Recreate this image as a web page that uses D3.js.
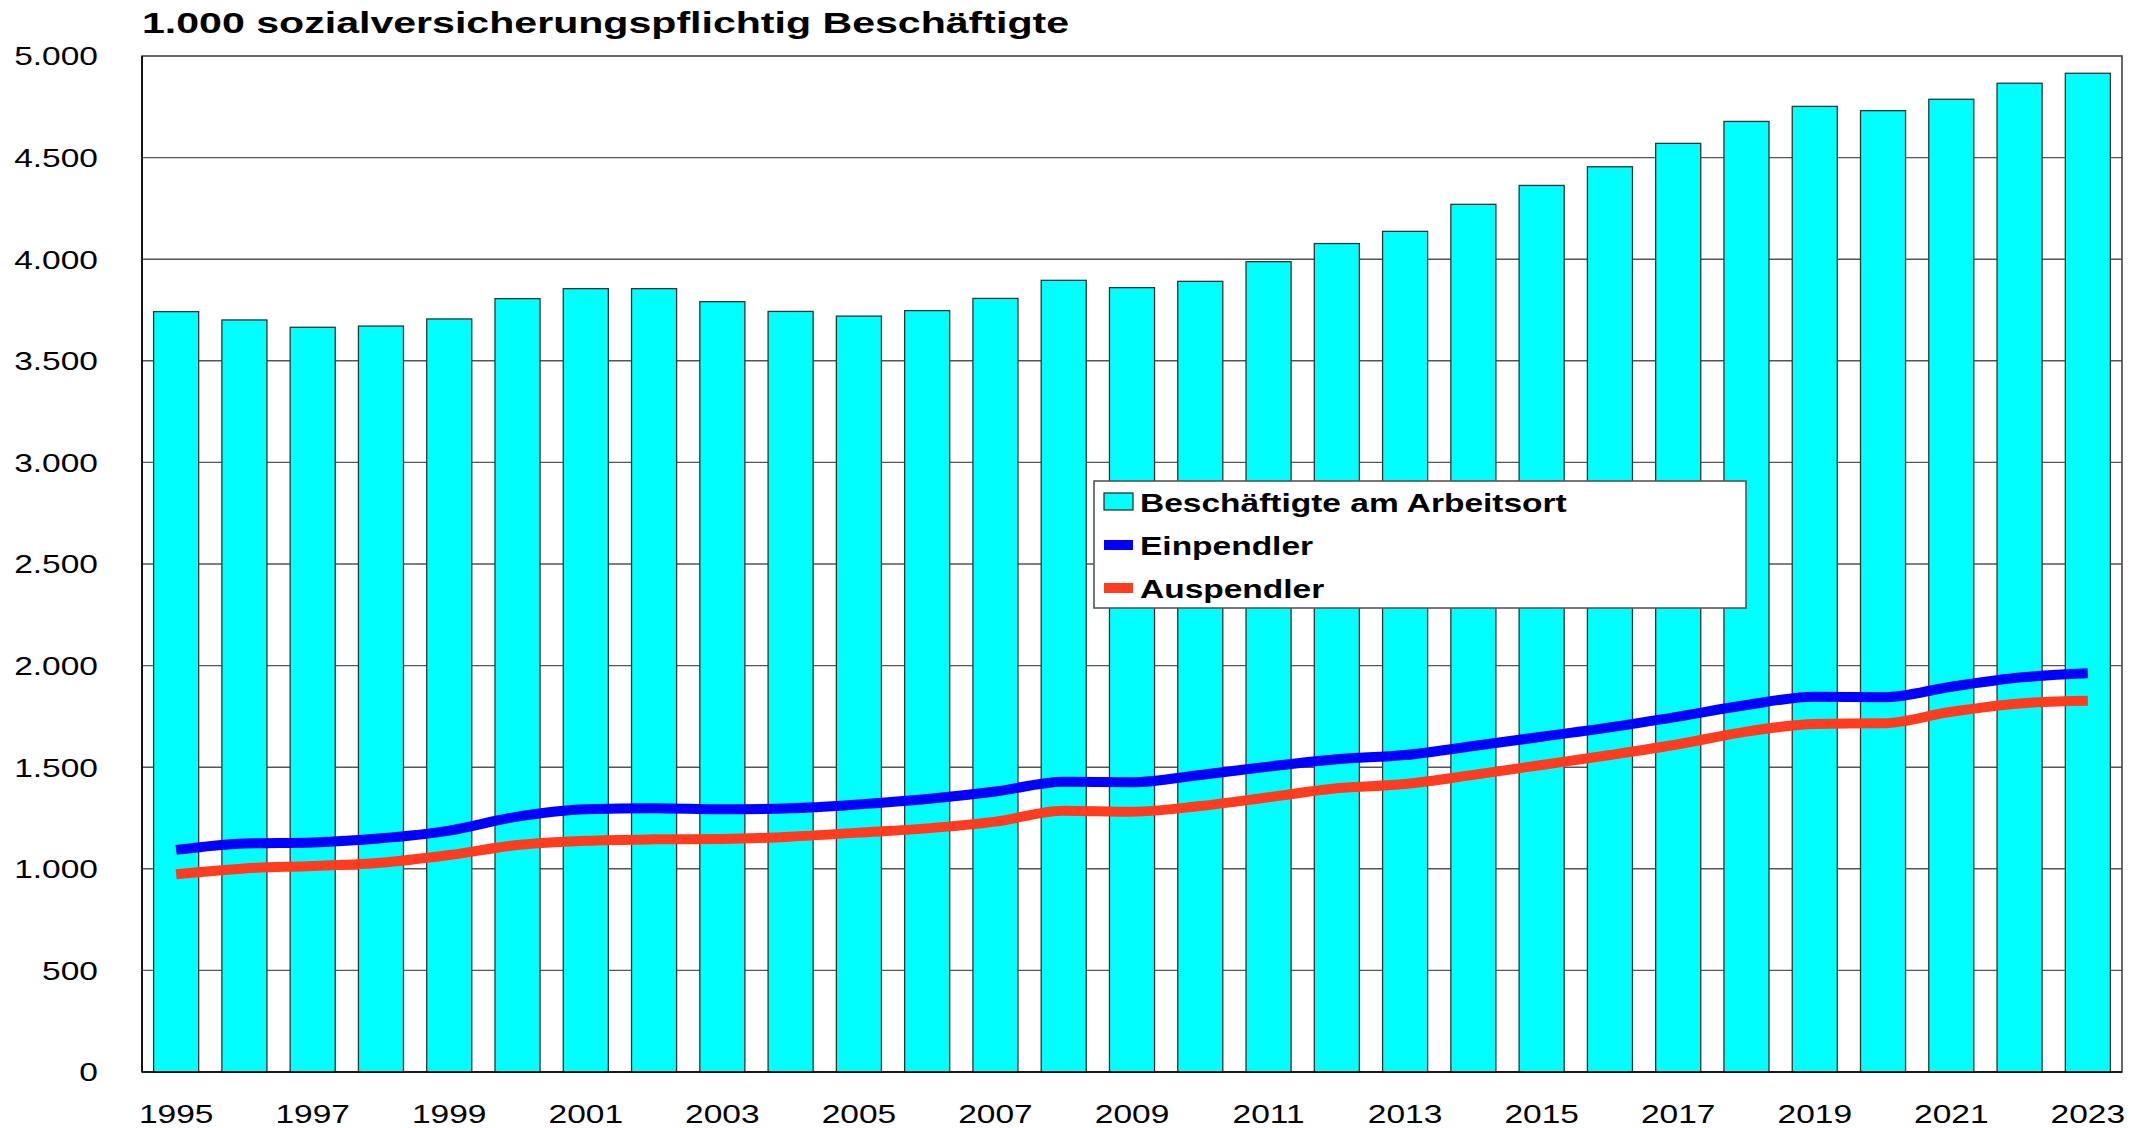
<!DOCTYPE html>
<html>
<head>
<meta charset="utf-8">
<script src="https://cdn.jsdelivr.net/npm/d3@7"></script>
<style>
  html, body { margin: 0; padding: 0; background: #fff; }
  svg { display: block; }
  text { font-family: "Liberation Sans", Arial, sans-serif; fill: #000; }
</style>
</head>
<body>
<svg id="chart" width="2147" height="1128"></svg>
<script>
// ---- data ----
const years = d3.range(1995, 2024);
const beschaeftigte = [3742, 3701, 3665, 3671, 3706, 3806, 3855, 3855, 3791, 3743, 3720, 3747, 3807, 3896, 3860, 3891, 3988, 4077, 4137, 4270, 4363, 4455, 4570, 4678, 4752, 4731, 4787, 4866, 4915];
const einpendler   = [1093, 1125, 1130, 1150, 1188, 1257, 1293, 1298, 1293, 1298, 1317, 1343, 1380, 1429, 1426, 1462, 1503, 1539, 1560, 1604, 1650, 1696, 1749, 1806, 1847, 1844, 1896, 1941, 1962];
const auspendler   = [973, 1002, 1014, 1030, 1068, 1117, 1138, 1145, 1147, 1158, 1178, 1199, 1232, 1286, 1281, 1309, 1352, 1396, 1417, 1462, 1511, 1560, 1613, 1675, 1713, 1716, 1773, 1814, 1827];
const yTicks = d3.range(0, 5001, 500);
const xTickYears = years.filter(y => (y - 1995) % 2 === 0);
const title = "1.000 sozialversicherungspflichtig Beschäftigte";
const legendItems = [
  { label: "Beschäftigte am Arbeitsort", kind: "bar",  color: "#00ffff" },
  { label: "Einpendler",                 kind: "line", color: "#0000ff" },
  { label: "Auspendler",                 kind: "line", color: "#ff3c20" }
];

// ---- layout ----
const W = 2147, H = 1128;
const L = 142, R = 2122, T = 56, B = 1072;
const SX = 1.34; // horizontal stretch of the original text

const svg = d3.select("#chart");

const x = d3.scaleBand().domain(years).range([L, R]).paddingInner(0.34).paddingOuter(0.17);
const y = d3.scaleLinear().domain([0, 5000]).range([B, T]);
const fmt = v => d3.format(",")(v).replace(/,/g, ".");

// gridlines
svg.append("g").selectAll("line").data(yTicks.filter(v => v > 0 && v < 5000)).join("line")
  .attr("x1", L).attr("x2", R)
  .attr("y1", d => y(d)).attr("y2", d => y(d))
  .attr("stroke", "#555").attr("stroke-width", 1.4);

// plot frame
svg.append("rect").attr("x", L).attr("y", T).attr("width", R - L).attr("height", B - T)
  .attr("fill", "none").attr("stroke", "#444").attr("stroke-width", 1.6);

// bars
svg.append("g").selectAll("rect").data(years).join("rect")
  .attr("x", d => x(d))
  .attr("y", (d, i) => y(beschaeftigte[i]))
  .attr("width", x.bandwidth())
  .attr("height", (d, i) => y(0) - y(beschaeftigte[i]))
  .attr("fill", "#00ffff").attr("stroke", "#333").attr("stroke-width", 1.3);

// lines
const cx = d => x(d) + x.bandwidth() / 2;
const lineGen = arr => d3.line()
  .x((d, i) => cx(years[i]))
  .y(d => y(d))
  .curve(d3.curveMonotoneX)(arr);

svg.append("path").attr("d", lineGen(einpendler))
  .attr("fill", "none").attr("stroke", "#0000ff").attr("stroke-width", 10)
  .attr("stroke-linejoin", "round");
svg.append("path").attr("d", lineGen(auspendler))
  .attr("fill", "none").attr("stroke", "#ff3c20").attr("stroke-width", 10)
  .attr("stroke-linejoin", "round");

// axes lines (black left & bottom)
svg.append("line").attr("x1", L).attr("x2", L).attr("y1", T).attr("y2", B)
  .attr("stroke", "#000").attr("stroke-width", 1.6);
svg.append("line").attr("x1", L).attr("x2", R).attr("y1", B).attr("y2", B)
  .attr("stroke", "#000").attr("stroke-width", 1.6);

// y axis
const yAxis = svg.append("g").attr("transform", `translate(${L},0)`)
  .call(d3.axisLeft(y).tickValues(yTicks).tickFormat(fmt).tickSize(0));
yAxis.select(".domain").remove();
yAxis.selectAll("text")
  .attr("x", 0).attr("dy", null).attr("y", 0)
  .attr("font-size", 25)
  .attr("font-family", "Liberation Sans, Arial, sans-serif")
  .attr("text-anchor", "end")
  .attr("dominant-baseline", "central")
  .attr("transform", `translate(-44,0) scale(${SX},1)`);

// x axis
const xAxis = svg.append("g").attr("transform", `translate(0,${B})`)
  .call(d3.axisBottom(x).tickValues(xTickYears).tickSize(0));
xAxis.select(".domain").remove();
xAxis.selectAll("text")
  .attr("y", 0).attr("dy", null)
  .attr("font-size", 25)
  .attr("font-family", "Liberation Sans, Arial, sans-serif")
  .attr("transform", `translate(0,51) scale(${SX},1)`);

// title
svg.append("text")
  .attr("transform", `translate(${L},33) scale(1.37,1)`)
  .attr("font-size", 30).attr("font-weight", "bold")
  .text(title);

// legend
const lg = svg.append("g");
lg.append("rect").attr("x", 1094).attr("y", 481).attr("width", 652).attr("height", 127)
  .attr("fill", "#fff").attr("stroke", "#555").attr("stroke-width", 1.6);
legendItems.forEach((it, i) => {
  const base = 512 + i * 43;
  if (it.kind === "bar") {
    lg.append("rect").attr("x", 1104).attr("y", base - 19).attr("width", 29).attr("height", 17)
      .attr("fill", it.color).attr("stroke", "#222").attr("stroke-width", 1.2);
  } else {
    lg.append("rect").attr("x", 1104).attr("y", base - 15).attr("width", 29).attr("height", 10)
      .attr("fill", it.color);
  }
  lg.append("text")
    .attr("transform", `translate(1140,${base}) scale(${SX},1)`)
    .attr("font-size", 25).attr("font-weight", "bold")
    .text(it.label);
});
</script>
</body>
</html>
